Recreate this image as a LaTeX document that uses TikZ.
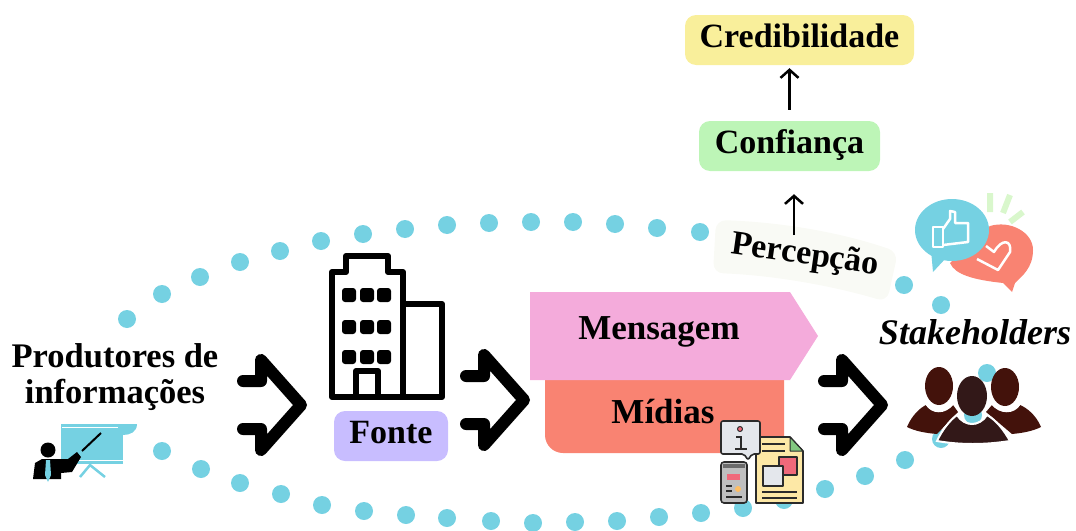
\documentclass[tikz,border=0pt]{standalone}
\usepackage{fontspec}
\setmainfont{Liberation Serif}
\usetikzlibrary{arrows.meta}
\definecolor{dotcol}{HTML}{75D1E2}
\definecolor{credcol}{HTML}{F9EF9B}
\definecolor{confcol}{HTML}{BDF5B7}
\definecolor{fontecol}{HTML}{C8BDFF}
\definecolor{msgcol}{HTML}{F4ABDB}
\definecolor{midcol}{HTML}{F98372}
\definecolor{perccol}{HTML}{F9FAF5}
\definecolor{raycol}{HTML}{D9F7CC}
\definecolor{sidecol}{HTML}{43120B}
\definecolor{midpcol}{HTML}{321818}
\definecolor{inkcol}{HTML}{2B2B2B}
\definecolor{greycol}{HTML}{E4E7EC}
\definecolor{papercol}{HTML}{FDE8A6}
\definecolor{redcol}{HTML}{F0697A}
\tikzset{
    label/.style={font=\fontsize{34}{36}\selectfont\bfseries,align=center},
    big/.style={label,font=\fontsize{35}{38}\selectfont\bfseries,text height=24pt,text depth=8pt},
    box/.style={label,rounded corners=11pt,minimum height=50pt,text height=20pt,text depth=6pt},
    chevron/.style={line width=12pt,line join=round,line cap=round},
    up/.style={->,>={Straight Barb[length=8pt,width=18pt]},line width=2.5pt},
    icon/.style={draw=inkcol,line width=1.6pt,line join=round}
}
\begin{document}
\begin{tikzpicture}[x=1pt,y=-1pt]
    \useasboundingbox (0,0) rectangle (1076,530);

    \foreach \x/\y in {127/319,162/294,200/277,240/262,280/251,321/241,363/234,405/229,447/225,489/223,531/222,573/222,615/224,657/228,700/232,904/285,941/305,987/373,973/415,941/439,905/460,865/476,825/489,784/500,743/508,701/513,659/517,617/521,575/522,533/523,491/521,447/518,406/515,364/511,322/505,281/494,240/483,201/469,162/451}
        \fill[dotcol] (\x,\y) circle (9);

    \foreach \x/\y in {243/405,466/400,824/405}
        \draw[chevron] (\x,\y-24) -- (\x+18,\y-24) -- (\x+18,\y-45) -- (\x+58,\y) -- (\x+18,\y+45) -- (\x+18,\y+24) -- (\x,\y+24);

    \node[box,fill=credcol,minimum width=229pt] (cred) at (799.5,40) {Credibilidade};
    \node[box,fill=confcol,minimum width=181pt] (conf) at (789.5,146) {Confiança};

    \fill[perccol,rounded corners=10pt] (716,220) .. controls (780,222) and (840,232) .. (898,252) -- (887,302) .. controls (830,285) and (770,275) .. (713,273) -- cycle;
    \node[label,rotate=-8] (perc) at (805,256) {Percepção};
    \coordinate (percup) at (794,235);
    \draw[up,shorten >=23pt] (percup) -- (percup |- conf.south);
    \draw[up,shorten <=11pt,shorten >=3pt] (conf.north) -- (conf.north |- cred.south);

    \node[label,font=\fontsize{34.5}{36}\selectfont\bfseries] (prod) at (115,377) {Produtores de\\informações};

    \fill[dotcol] (61,424) rectangle (123,464);
    \fill[dotcol] (123,424) -- (137,424) .. controls (137,432) and (130,435) .. (123,435) -- cycle;
    \draw[white,line width=1pt] (62,427) -- (118,427);
    \draw[white,line width=1pt] (61,460) -- (123,460);
    \draw[dotcol,line width=2.5pt] (80,477) -- (90,465) -- (105,477);
    \draw[black,line width=2pt] (82,451) -- (101,433);
    \fill[black] (48,450) circle (7.5);
    \fill[black] (33,479) -- (35,463) -- (42,459) -- (68,459) -- (77,452) -- (81,457) -- (72,472) -- (61,473) -- (61,479) -- cycle;
    \fill[dotcol] (46,460) -- (50,460) -- (51,475) -- (48,482) -- (45,475) -- cycle;

    \draw[line width=6pt,line join=round] (332,397) -- (332,272) -- (346,272) -- (346,256) -- (388,256) -- (388,272) -- (403,272) -- (403,397) -- cycle;
    \draw[line width=6pt,line join=round] (403,304) -- (442,304) -- (442,397) -- (403,397);
    \draw[line width=6pt,line join=round] (356,397) -- (356,371) -- (378,371) -- (378,397);
    \foreach \x in {349,367,384}
        \foreach \y in {295,327,357}
            \fill[rounded corners=3pt] ({\x-7},{\y-7}) rectangle ({\x+7},{\y+7});

    \node[box,fill=fontecol,minimum width=114pt] (fonte) at (391,436) {Fonte};

    \fill[midcol] (784,380) -- (784,453) [rounded corners=18pt] -- (545,453) [sharp corners] -- (545,380) -- cycle;
    \fill[msgcol] (530,292) -- (790,292) -- (818,336) -- (790,380) -- (530,380) -- cycle;
    \node[big] (msg) at (659,331) {Mensagem};
    \node[big] (mid) at (663,415) {Mídias};

    \filldraw[icon,fill=papercol] (756,437) -- (790,437) -- (803,451) -- (803,503) -- (756,503) -- cycle;
    \filldraw[icon,fill=confcol!70!green!60!gray,line width=1pt] (790,437) -- (803,451) -- (790,451) -- cycle;
    \draw[inkcol,line width=1.2pt] (762,444) -- (785,444) (762,451) -- (785,451) (762,492) -- (797,492) (762,498) -- (797,498);
    \filldraw[icon,fill=redcol,line width=1.2pt] (779,457) rectangle (797,475);
    \filldraw[icon,fill=greycol,line width=1.2pt] (763,466) rectangle (783,486);
    \filldraw[icon,fill=greycol,rounded corners=2pt] (721,421) -- (760,421) -- (760,454) -- (752,454) -- (748,460) -- (744,454) -- (721,454) -- cycle;
    \filldraw[icon,fill=redcol,line width=1pt] (740,429) circle (2.5);
    \draw[inkcol,line width=2pt] (736,437) -- (741,437) -- (741,449) (735,449) -- (747,449);
    \filldraw[icon,fill=gray!50,rounded corners=3pt] (721,462) rectangle (747,503);
    \fill[inkcol!70] (723,464) rectangle (745,468);
    \fill[redcol] (727,474) rectangle (740,480);
    \fill[papercol!60!orange] (738,489) circle (3);
    \draw[inkcol,line width=1.2pt] (726,486) -- (732,486) (726,491) -- (732,491) (726,497) -- (742,497);

    \draw[raycol,line width=6pt] (990,193) -- (990,212) (1010,195) -- (1003,213) (1023,212) -- (1010,222);
    \fill[midcol] (990,226) .. controls (1010,220) and (1033,232) .. (1033,250) .. controls (1033,268) and (1022,276) .. (1015,283) -- (1012,292) -- (1003,283) .. controls (975,280) and (955,275) .. (950,263) -- cycle;
    \draw[white,line width=2.5pt,line join=round] (977,259) -- (998,270) -- (1010,252) .. controls (1012,240) and (1002,238) .. (994,252) -- (986,246);
    \fill[dotcol] (952,230) ellipse (37 and 31);
    \fill[dotcol] (931,250) -- (933,272) -- (946,258) -- cycle;
    \draw[white,line width=2.5pt,line join=round] (933,227) -- (943,227) -- (943,247) -- (933,247) -- cycle;
    \draw[white,line width=2.5pt,line join=round] (943,229) -- (950,219) -- (950,211) -- (955,212) -- (955,223) -- (968,223) -- (968,242) -- (943,245);

    \node[label,font=\fontsize{36}{38}\selectfont\bfseries\itshape] (stake) at (975,332) {Stakeholders};

    \fill[sidecol] (907,427) .. controls (912,415) and (920,408) .. (926,405) .. controls (932,414) and (945,414) .. (953,405) -- (958,412) -- (937,434) .. controls (925,433) and (915,431) .. (907,427) -- cycle;
    \fill[sidecol] (1041,427) .. controls (1036,415) and (1027,408) .. (1020,405) .. controls (1014,414) and (1000,414) .. (992,405) -- (986,412) -- (1012,434) .. controls (1023,433) and (1033,431) .. (1041,427) -- cycle;
    \fill[sidecol] (939,386) ellipse (14 and 19);
    \fill[sidecol] (1005,387) ellipse (14 and 19);
    \draw[white,line width=1.5pt] (926,404) .. controls (932,414) and (945,414) .. (953,404);
    \draw[white,line width=1.5pt] (992,404) .. controls (1000,414) and (1014,414) .. (1020,404);
    \filldraw[midpcol,draw=white,line width=2pt] (937,441) .. controls (942,430) and (950,420) .. (957,415) .. controls (965,427) and (979,427) .. (987,415) .. controls (996,420) and (1004,430) .. (1010,441) .. controls (985,445) and (960,445) .. (937,441) -- cycle;
    \draw[white,line width=1.5pt] (957,415) .. controls (965,427) and (979,427) .. (987,415);
    \fill[midpcol] (972,396) ellipse (15 and 20);
\end{tikzpicture}
\end{document}
